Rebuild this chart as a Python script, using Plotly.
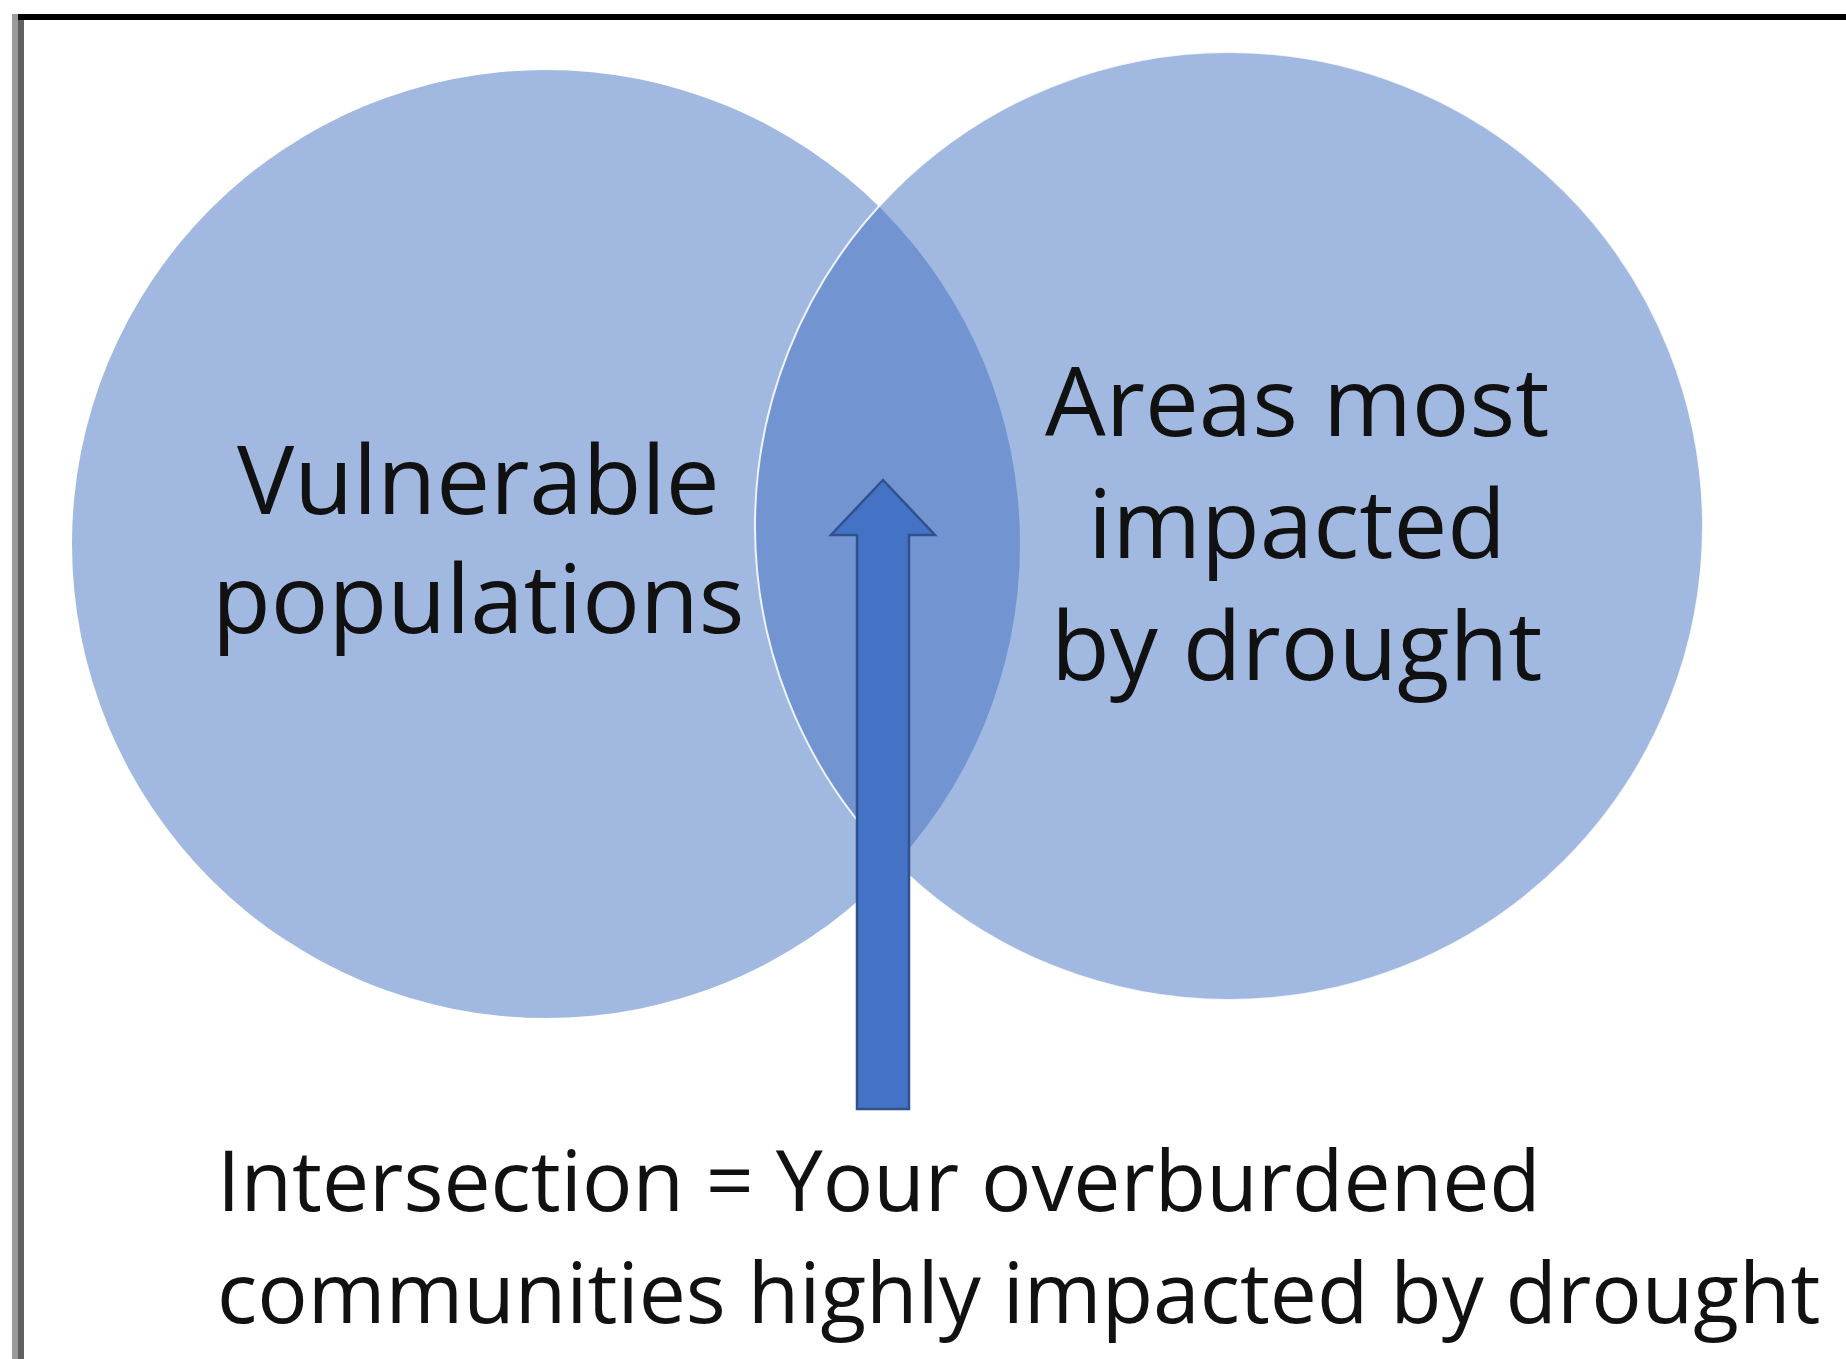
import plotly.graph_objects as go

W, H = 1846, 1359

# ---- content ----
left_set_lines = ["Vulnerable", "populations"]
right_set_lines = ["Areas most", "impacted", "by drought"]
caption_lines = ["Intersection = Your overburdened",
                 "communities highly impacted by drought"]

# ---- geometry (pixel-like data coordinates) ----
left_circle = dict(cx=546, cy=544, r=474)
right_circle = dict(cx=1229, cy=526, r=474)
arrow = dict(tip_x=883, tip_y=480, head_y=535, head_half=52, shaft_half=26, bottom=1109)

FONT = "'Open Sans', Lato, sans-serif"
BLUE = "#4472C4"

fig = go.Figure()
fig.add_trace(go.Scatter(x=[0, W], y=[0, H], mode="markers",
                         marker=dict(opacity=0), hoverinfo="skip", showlegend=False))

shapes = []
for c, line in ((left_circle, dict(width=0)),
                (right_circle, dict(color="rgba(255,255,255,0.85)", width=2))):
    shapes.append(dict(type="circle", xref="x", yref="y",
                       x0=c["cx"] - c["r"], x1=c["cx"] + c["r"],
                       y0=c["cy"] - c["r"], y1=c["cy"] + c["r"],
                       fillcolor="rgba(68,114,196,0.5)", line=line, layer="above"))

a = arrow
pts = [(a["tip_x"], a["tip_y"]),
       (a["tip_x"] + a["head_half"], a["head_y"]),
       (a["tip_x"] + a["shaft_half"], a["head_y"]),
       (a["tip_x"] + a["shaft_half"], a["bottom"]),
       (a["tip_x"] - a["shaft_half"], a["bottom"]),
       (a["tip_x"] - a["shaft_half"], a["head_y"]),
       (a["tip_x"] - a["head_half"], a["head_y"])]
path = "M " + " L ".join(f"{x},{y}" for x, y in pts) + " Z"
shapes.append(dict(type="path", path=path, xref="x", yref="y",
                   fillcolor=BLUE, line=dict(color="#2F528F", width=2.5), layer="above"))

# frame
shapes.append(dict(type="rect", xref="x", yref="y", x0=12, x1=W + 5, y0=14, y1=20,
                   fillcolor="black", line=dict(width=0), layer="above"))
shapes.append(dict(type="rect", xref="x", yref="y", x0=12, x1=18, y0=14, y1=H + 5,
                   fillcolor="#9a9a9a", line=dict(width=0), layer="above"))
shapes.append(dict(type="rect", xref="x", yref="y", x0=18, x1=24, y0=20, y1=H + 5,
                   fillcolor="#606060", line=dict(width=0), layer="above"))

annotations = []

def add_lines(lines, x, first_baseline, spacing, size, xanchor):
    for i, t in enumerate(lines):
        base = first_baseline + i * spacing
        annotations.append(dict(x=x, y=base - 0.388 * size, xref="x", yref="y",
                                text=t, showarrow=False, xanchor=xanchor, yanchor="middle",
                                font=dict(family=FONT, size=size, color="#111111")))

add_lines(left_set_lines, 478, 514, 119, 96, "center")
add_lines(right_set_lines, 1297, 436, 122, 96, "center")
add_lines(caption_lines, 215, 1211, 112, 84, "left")

fig.update_layout(
    width=W, height=H,
    margin=dict(l=0, r=0, t=0, b=0),
    paper_bgcolor="white", plot_bgcolor="white",
    xaxis=dict(range=[0, W], visible=False, fixedrange=True),
    yaxis=dict(range=[H, 0], visible=False, fixedrange=True),
    shapes=shapes, annotations=annotations,
    showlegend=False,
)

fig.write_html("out.html", config={"displayModeBar": False},
               post_script="document.body.style.margin='0';document.body.style.overflow='hidden';")
